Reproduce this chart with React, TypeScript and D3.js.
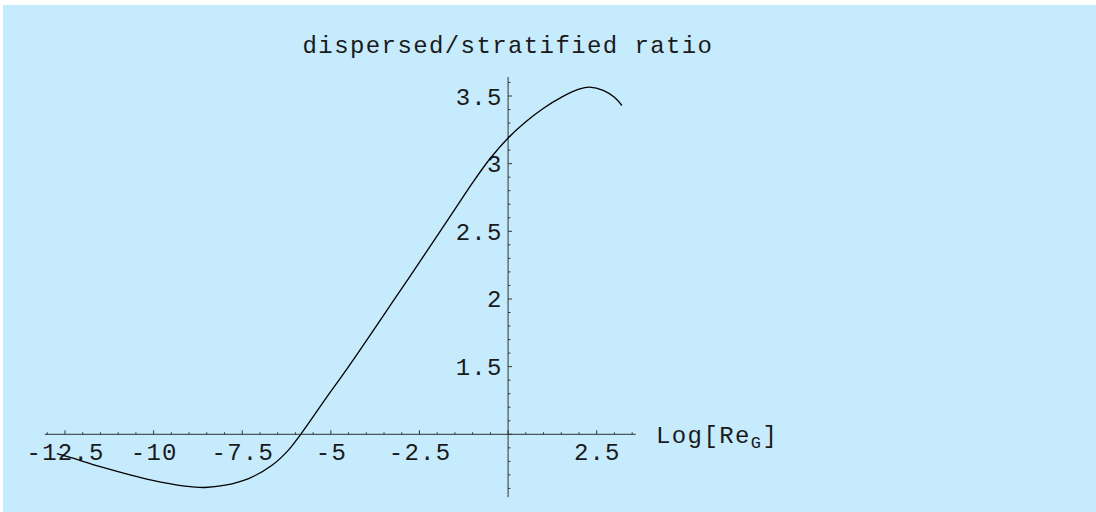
import React from 'react';
import * as d3 from 'd3';

const title = "dispersed/stratified ratio";
const curveX = [-12.73, -12.33, -11.48, -10.06, -9.12, -8.55, -7.98, -7.32, -6.66, -6.19, -5.85, -5.1, -4.5, -3.2, -1.94, -1.33, -1.0, -0.5, 0.0, 0.5, 1.0, 1.5, 2.0, 2.3, 2.7, 3.0, 3.21];
const curveY = [0.858, 0.828, 0.759, 0.661, 0.617, 0.607, 0.624, 0.673, 0.771, 0.885, 1.0, 1.28, 1.5, 2.0, 2.49, 2.73, 2.86, 3.04, 3.19, 3.31, 3.41, 3.49, 3.55, 3.565, 3.54, 3.49, 3.43];
const xMajorTicks = [-12.5, -10, -7.5, -5, -2.5, 2.5];
const xTickLabels = ["-12.5", "-10", "-7.5", "-5", "-2.5", "2.5"];
const yMajorTicks = [1.5, 2, 2.5, 3, 3.5];
const yTickLabels = ["1.5", "2", "2.5", "3", "3.5"];
const xMinorTicks = d3.range(-13, 3.51, 0.5);
const yMinorTicks = d3.range(0.6, 3.61, 0.1);

const W = 1096, H = 512;
const BG = "#c6ebfd";
const FONT = "'Liberation Mono', 'Courier New', monospace";
const TXT = "#1a1a1a";

export default function App() {
  const x = d3.scaleLinear().domain([-12.5, 2.5]).range([65, 596.7]);
  const y = d3.scaleLinear().domain([1, 3.5]).range([434.3, 96]);
  const xAxisY = y(1);
  const yAxisX = x(0);
  const pts = curveX.map((v, i) => [v, curveY[i]] as [number, number]);
  const line = d3.line<[number, number]>().x(d => x(d[0])).y(d => y(d[1])).curve(d3.curveCatmullRom.alpha(0.5));
  const axisColor = "#333";
  return (
    <svg width={W} height={H} style={{ position: 'absolute', left: 0, top: 0, display: 'block' }}>
      <rect x={0} y={0} width={W} height={H} fill="#ffffff" />
      <rect x={3} y={5} width={W - 3} height={H - 5} fill={BG} />
      <text x={508} y={53} textAnchor="middle" fontFamily={FONT} fontSize={24} letterSpacing={1.4} fill={TXT}>{title}</text>
      {/* x axis */}
      <line x1={x(-13.07)} x2={x(3.6)} y1={xAxisY} y2={xAxisY} stroke={axisColor} strokeWidth={1} />
      {xMinorTicks.map((t, i) => {
        const major = Math.abs(t / 2.5 - Math.round(t / 2.5)) < 1e-6;
        return <line key={'xm' + i} x1={x(t)} x2={x(t)} y1={xAxisY} y2={xAxisY - (major ? 4 : 2)} stroke={axisColor} strokeWidth={1} />;
      })}
      {xMajorTicks.map((t, i) => (
        <text key={'xl' + i} x={x(t) + 0.6} y={xAxisY + 26} textAnchor="middle" fontFamily={FONT} fontSize={24} letterSpacing={1.2} fill={TXT}>{xTickLabels[i]}</text>
      ))}
      {/* y axis */}
      <line x1={yAxisX} x2={yAxisX} y1={y(3.64)} y2={y(0.535)} stroke={axisColor} strokeWidth={1} />
      {yMinorTicks.map((t, i) => {
        const major = Math.abs(t / 0.5 - Math.round(t / 0.5)) < 1e-6;
        return <line key={'ym' + i} x1={yAxisX} x2={yAxisX + (major ? 4 : 2.3)} y1={y(t)} y2={y(t)} stroke={axisColor} strokeWidth={1} />;
      })}
      {yMajorTicks.map((t, i) => (
        <text key={'yl' + i} x={yAxisX - 5.5} y={y(t) + 8.5} textAnchor="end" fontFamily={FONT} fontSize={24} letterSpacing={1.2} fill={TXT}>{yTickLabels[i]}</text>
      ))}
      {/* axis label */}
      <text x={656} y={443} fontFamily={FONT} fontSize={24} letterSpacing={1.4} fill={TXT}>
        <tspan>Log[Re</tspan>
        <tspan fontSize={17} dy={5}>G</tspan>
        <tspan dy={-5}>]</tspan>
      </text>
      <path d={line(pts) || ''} fill="none" stroke="#000" strokeWidth={1.3} />
    </svg>
  );
}
